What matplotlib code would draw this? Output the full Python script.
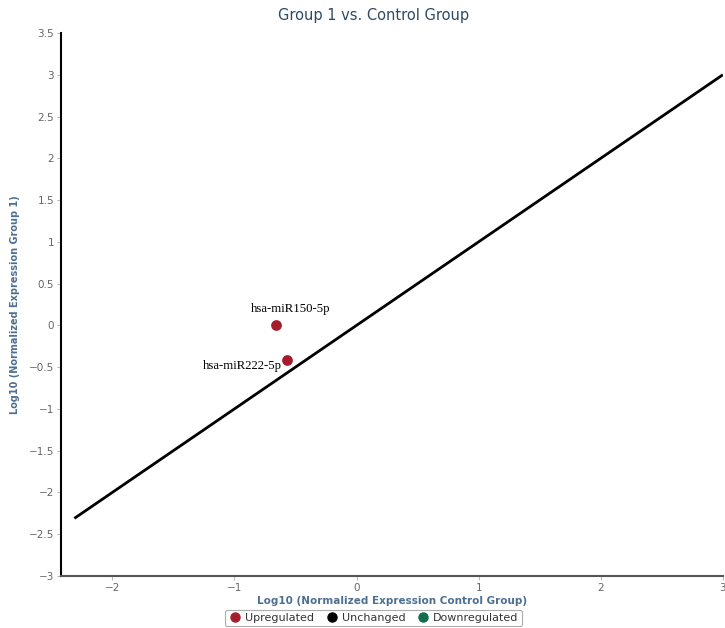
import numpy as np
import matplotlib.pyplot as plt
from matplotlib.lines import Line2D

# expression values (log10) for the labelled miRNAs
mirna_names = ['hsa-miR150-5p', 'hsa-miR222-5p']
control_vals = [-0.66, -0.57]
group1_vals = [0.0, -0.42]

# identity line range
diag = [-2.31, 3.0]

x_ticks = [-2, -1, 0, 1, 2, 3]
y_ticks = [-3, -2.5, -2, -1.5, -1, -0.5, 0, 0.5, 1, 1.5, 2, 2.5, 3, 3.5]

up_col = '#a51d2d'
down_col = '#0f6e4f'
title_col = '#2c4a63'
label_col = '#4d7092'

fig = plt.figure(figsize=(7.25, 6.28), dpi=100)
ax = fig.add_axes([0.0841, 0.0828, 0.913, 0.8647])

ax.plot(diag, diag, color='black', lw=2, solid_capstyle='butt', zorder=2)
ax.scatter(control_vals, group1_vals, s=60, color=up_col, zorder=3, linewidths=0)

ax.text(control_vals[0] + 0.12, group1_vals[0] + 0.13, mirna_names[0], ha='center', va='bottom',
        family='Liberation Serif', fontsize=9.2)
ax.text(control_vals[1] - 0.04, group1_vals[1] - 0.07, mirna_names[1], ha='right', va='center',
        family='Liberation Serif', fontsize=9.2)

ax.set_xlim(-2.42, 3.0)
ax.set_ylim(-3, 3.5)
ax.set_xticks(x_ticks)
ax.set_yticks(y_ticks)
ax.set_xticklabels([str(t).replace('-', '\u2212') for t in x_ticks])
ax.set_yticklabels([('%g' % t).replace('-', '\u2212') for t in y_ticks])
ax.tick_params(colors='#bbbbbb', labelcolor='#666666', labelsize=7.5, length=3, width=0.8, pad=2)

for side in ['top', 'right']:
    ax.spines[side].set_visible(False)
ax.spines['left'].set_color('black')
ax.spines['left'].set_linewidth(1.5)
ax.spines['bottom'].set_color('#555555')
ax.spines['bottom'].set_linewidth(1.5)

fig.text(0.515, 0.976, 'Group 1 vs. Control Group', color=title_col, fontsize=10.5,
         ha='center', va='center')
ax.set_xlabel('Log10 (Normalized Expression Control Group)', color=label_col, fontsize=7.5,
              fontweight='bold', labelpad=2)
ax.yaxis.set_label_coords(-0.062, 0.52)
ax.set_ylabel('Log10 (Normalized Expression Group 1)', color=label_col, fontsize=7,
              fontweight='bold')

handles = [Line2D([], [], marker='o', ls='', color=c, markersize=6.5)
           for c in [up_col, 'black', down_col]]
leg = fig.legend(handles, ['Upregulated', 'Unchanged', 'Downregulated'], loc='lower center',
                 bbox_to_anchor=(0.515, -0.006), ncol=3, fontsize=8, frameon=True,
                 handletextpad=0.3, columnspacing=1.0, borderpad=0.3, handlelength=1.2)
leg.get_frame().set_edgecolor('#999999')
leg.get_frame().set_linewidth(0.8)
for t in leg.get_texts():
    t.set_color('#333333')

fig.savefig('out.png', dpi=100)
